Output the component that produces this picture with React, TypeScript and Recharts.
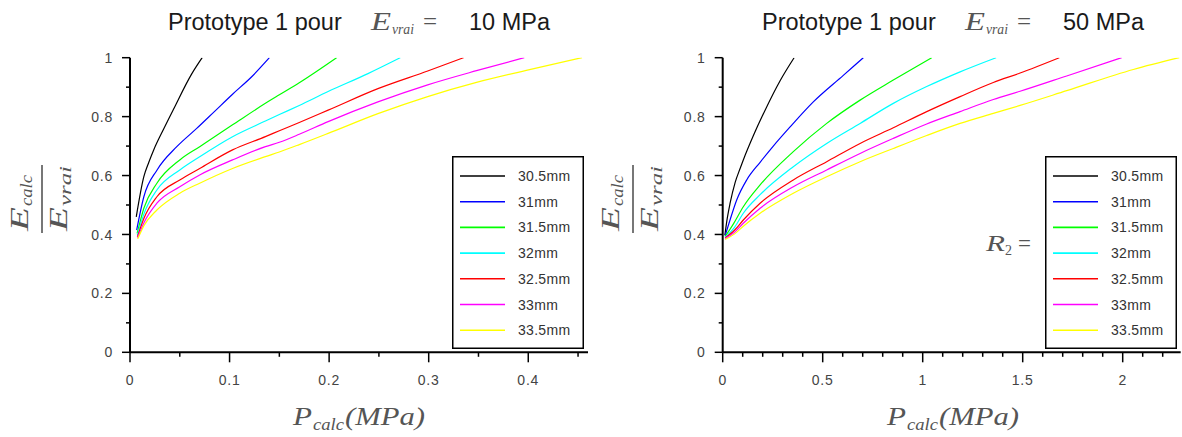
import React from 'react'
import { LineChart, Line, XAxis, YAxis, Legend } from 'recharts'

const radii = ['30.5mm', '31mm', '31.5mm', '32mm', '32.5mm', '33mm', '33.5mm']
const colors = ['#000000', '#0000ff', '#00ff00', '#00ffff', '#ff0000', '#ff00ff', '#ffff00']

// E_vrai = 10 MPa : [P_calc (MPa), E_calc / E_vrai]
const e10_r305 = [[0.0063, 0.46], [0.0139, 0.596], [0.0189, 0.645], [0.0238, 0.687], [0.0338, 0.758], [0.0437, 0.825], [0.062, 0.945], [0.0725, 1.0]]
const e10_r31 = [[0.0067, 0.415], [0.0139, 0.528], [0.0272, 0.619], [0.047, 0.698], [0.067, 0.76], [0.085, 0.818], [0.103, 0.876], [0.123, 0.938], [0.14, 1.0]]
const e10_r315 = [[0.0072, 0.404], [0.014, 0.49], [0.027, 0.574], [0.05, 0.653], [0.07, 0.698], [0.103, 0.772], [0.136, 0.845], [0.15, 0.874], [0.17, 0.915], [0.2075, 1.0]]
const e10_r32 = [[0.0074, 0.398], [0.014, 0.47], [0.027, 0.551], [0.05, 0.619], [0.07, 0.664], [0.103, 0.732], [0.136, 0.785], [0.15, 0.807], [0.17, 0.838], [0.199, 0.885], [0.239, 0.946], [0.2715, 1.0]]
const e10_r325 = [[0.0075, 0.392], [0.014, 0.455], [0.027, 0.528], [0.05, 0.585], [0.07, 0.624], [0.103, 0.687], [0.136, 0.732], [0.15, 0.752], [0.17, 0.78], [0.199, 0.822], [0.249, 0.895], [0.299, 0.955], [0.335, 1.0]]
const e10_r33 = [[0.0076, 0.389], [0.014, 0.44], [0.027, 0.506], [0.05, 0.562], [0.07, 0.602], [0.103, 0.653], [0.136, 0.698], [0.15, 0.713], [0.17, 0.74], [0.199, 0.783], [0.249, 0.85], [0.299, 0.908], [0.348, 0.956], [0.396, 1.0]]
const e10_r335 = [[0.0078, 0.385], [0.014, 0.43], [0.027, 0.483], [0.05, 0.54], [0.07, 0.574], [0.103, 0.624], [0.136, 0.664], [0.15, 0.68], [0.17, 0.705], [0.199, 0.743], [0.249, 0.81], [0.299, 0.868], [0.348, 0.916], [0.398, 0.957], [0.454, 1.0]]

// E_vrai = 50 MPa
const e50_r305 = [[0.011, 0.398], [0.02, 0.443], [0.037, 0.506], [0.062, 0.576], [0.087, 0.624], [0.103, 0.653], [0.153, 0.735], [0.212, 0.822], [0.287, 0.922], [0.357, 1.0]]
const e50_r31 = [[0.012, 0.395], [0.037, 0.45], [0.07, 0.517], [0.12, 0.585], [0.187, 0.645], [0.253, 0.7], [0.337, 0.765], [0.453, 0.85], [0.603, 0.94], [0.703, 1.0]]
const e50_r315 = [[0.012, 0.393], [0.053, 0.435], [0.103, 0.494], [0.187, 0.568], [0.353, 0.681], [0.52, 0.777], [0.687, 0.856], [0.853, 0.924], [1.045, 1.0]]
const e50_r32 = [[0.012, 0.39], [0.06, 0.425], [0.103, 0.472], [0.187, 0.535], [0.353, 0.63], [0.52, 0.709], [0.687, 0.777], [0.853, 0.845], [1.02, 0.902], [1.187, 0.952], [1.367, 1.0]]
const e50_r325 = [[0.012, 0.388], [0.06, 0.415], [0.103, 0.449], [0.187, 0.506], [0.353, 0.585], [0.52, 0.647], [0.687, 0.709], [0.853, 0.762], [1.02, 0.817], [1.187, 0.868], [1.353, 0.916], [1.487, 0.948], [1.683, 1.0]]
const e50_r33 = [[0.012, 0.386], [0.06, 0.408], [0.103, 0.438], [0.187, 0.489], [0.353, 0.562], [0.52, 0.619], [0.687, 0.675], [0.853, 0.726], [1.02, 0.775], [1.187, 0.817], [1.353, 0.858], [1.487, 0.886], [1.72, 0.938], [1.995, 1.0]]
const e50_r335 = [[0.012, 0.383], [0.06, 0.402], [0.103, 0.428], [0.187, 0.472], [0.353, 0.54], [0.52, 0.596], [0.687, 0.647], [0.853, 0.692], [1.02, 0.736], [1.187, 0.777], [1.353, 0.811], [1.487, 0.838], [1.72, 0.888], [2.053, 0.96], [2.283, 1.0]]

const e10Series = [e10_r305, e10_r31, e10_r315, e10_r32, e10_r325, e10_r33, e10_r335]
const e50Series = [e50_r305, e50_r31, e50_r315, e50_r32, e50_r325, e50_r33, e50_r335]

const yTicks = [0, 0.1, 0.2, 0.3, 0.4, 0.5, 0.6, 0.7, 0.8, 0.9, 1]
const yMajor = [0, 0.2, 0.4, 0.6, 0.8, 1]
const e10XTicks = [0, 0.05, 0.1, 0.15, 0.2, 0.25, 0.3, 0.35, 0.4, 0.45]
const e10XMajor = [0, 0.1, 0.2, 0.3, 0.4]
const e50XTicks = [0, 0.1, 0.2, 0.3, 0.4, 0.5, 0.6, 0.7, 0.8, 0.9, 1, 1.1, 1.2, 1.3, 1.4, 1.5, 1.6, 1.7, 1.8, 1.9, 2, 2.1, 2.2]
const e50XMajor = [0, 0.5, 1, 1.5, 2]

const sans = '"Liberation Sans", Arial, sans-serif'
const serif = '"Liberation Serif", "Times New Roman", serif'

function XTick({ x, y, payload, major }: any) {
  const isMajor = major.includes(payload.value)
  return (
    <g>
      <line x1={x} x2={x} y1={y} y2={y + (isMajor ? 10 : 4.5)} stroke='#000' strokeWidth={1.5} />
      {isMajor && (
        <text x={x} y={y + 33} textAnchor='middle' fontSize={14} letterSpacing={0.8} fill='#444' fontFamily={sans}>
          {String(payload.value)}
        </text>
      )}
    </g>
  )
}

function YTick({ x, y, payload }: any) {
  const isMajor = yMajor.includes(payload.value)
  return (
    <g>
      <line x1={x} x2={x - (isMajor ? 8 : 4)} y1={y} y2={y} stroke='#000' strokeWidth={1.5} />
      {isMajor && (
        <text x={x - 17} y={y} dy='0.36em' textAnchor='end' fontSize={14} letterSpacing={0.8} fill='#444' fontFamily={sans}>
          {String(payload.value)}
        </text>
      )}
    </g>
  )
}

// legend keeps the series order (Recharts would sort it by name)
function LegendBox() {
  return (
    <svg width={132} height={193} style={{ display: 'block' }}>
      <rect x={0.75} y={0.75} width={130.5} height={191.5} fill='#fff' stroke='#000' strokeWidth={1.5} />
      {radii.map((name, i) => {
        const cy = 20 + i * 25.7
        return (
          <g key={name}>
            <line x1={8} x2={53} y1={cy} y2={cy} stroke={colors[i]} strokeWidth={1.6} />
            <text x={66} y={cy + 5} fontSize={14} letterSpacing={0.3} fill='#333' fontFamily={sans}>
              {name}
            </text>
          </g>
        )
      })}
    </svg>
  )
}

function Panel({ series, xMax, xTicks, xMajor, marginLeft, marginRight }: any) {
  return (
    <LineChart width={591} height={437} margin={{ top: 57.7, right: marginRight, bottom: 54.7, left: 0 }}>
      <XAxis
        type='number'
        dataKey='x'
        domain={[0, xMax]}
        allowDataOverflow
        ticks={xTicks}
        interval={0}
        height={30}
        tickSize={0}
        tickMargin={0}
        tickLine={false}
        axisLine={{ stroke: '#000', strokeWidth: 2 }}
        tick={(p: any) => <XTick {...p} major={xMajor} />}
      />
      <YAxis
        type='number'
        dataKey='y'
        domain={[0, 1]}
        allowDataOverflow
        ticks={yTicks}
        interval={0}
        width={marginLeft}
        tickSize={0}
        tickMargin={0}
        tickLine={false}
        axisLine={{ stroke: '#000', strokeWidth: 2 }}
        tick={(p: any) => <YTick {...p} />}
      />
      <Legend
        layout='vertical'
        align='center'
        verticalAlign='middle'
        wrapperStyle={{ left: marginLeft + 322, top: 156, width: 132, height: 193 }}
        content={() => <LegendBox />}
      />
      {series.map((pts: number[][], i: number) => (
        <Line
          key={radii[i]}
          name={radii[i]}
          data={pts.map(([x, y]) => ({ x, y }))}
          dataKey='y'
          type='monotone'
          stroke={colors[i]}
          strokeWidth={1.2}
          dot={false}
          activeDot={false}
          isAnimationActive={false}
        />
      ))}
    </LineChart>
  )
}

function Title({ x, value }: { x: number; value: string }) {
  return (
    <g>
      <text x={x} y={30} fontSize={23.5} fill='#1a1a1a' fontFamily={sans}>Prototype 1 pour</text>
      <text x={x + 203} y={30} fontSize={25} fontStyle='italic' fill='#555' fontFamily={serif} textLength={20} lengthAdjust='spacingAndGlyphs'>E</text>
      <text x={x + 224} y={34} fontSize={14} fontStyle='italic' fill='#555' fontFamily={serif} textLength={22} lengthAdjust='spacingAndGlyphs'>vrai</text>
      <text x={x + 255} y={30} fontSize={25} fill='#555' fontFamily={serif}>=</text>
      <text x={x + 301} y={30} fontSize={23.5} fill='#1a1a1a' fontFamily={sans}>{value}</text>
    </g>
  )
}

function YLabel({ x }: { x: number }) {
  return (
    <g transform={`translate(${x},201) rotate(-90)`} fill='#555' fontFamily={serif} fontStyle='italic'>
      <text x={-30} y={-14} fontSize={26} textLength={24} lengthAdjust='spacingAndGlyphs'>E</text>
      <text x={-5} y={-10} fontSize={16} textLength={31} lengthAdjust='spacingAndGlyphs'>calc</text>
      <line x1={-32} x2={36} y1={0} y2={0} stroke='#555' strokeWidth={1.6} />
      <text x={-30} y={25} fontSize={26} textLength={24} lengthAdjust='spacingAndGlyphs'>E</text>
      <text x={-5} y={29} fontSize={16} textLength={40} lengthAdjust='spacingAndGlyphs'>vrai</text>
    </g>
  )
}

function XLabel({ x }: { x: number }) {
  return (
    <g fill='#555' fontFamily={serif} fontStyle='italic'>
      <text x={x} y={425} fontSize={26} textLength={19} lengthAdjust='spacingAndGlyphs'>P</text>
      <text x={x + 20} y={430} fontSize={16} textLength={31} lengthAdjust='spacingAndGlyphs'>calc</text>
      <text x={x + 52} y={425} fontSize={26} textLength={80} lengthAdjust='spacingAndGlyphs'>(MPa)</text>
    </g>
  )
}

export default function App() {
  return (
    <div style={{ position: 'absolute', left: 0, top: 0, width: 1182, height: 437, background: '#fff', overflow: 'hidden' }}>
      <div style={{ position: 'absolute', left: 0, top: 0 }}>
        <Panel series={e10Series} xMax={0.46} xTicks={e10XTicks} xMajor={e10XMajor} marginLeft={130} marginRight={3} />
      </div>
      <div style={{ position: 'absolute', left: 591, top: 0 }}>
        <Panel series={e50Series} xMax={2.29} xTicks={e50XTicks} xMajor={e50XMajor} marginLeft={131.7} marginRight={1.3} />
      </div>
      <svg width={1182} height={437} style={{ position: 'absolute', left: 0, top: 0, pointerEvents: 'none' }}>
        <Title x={168} value='10 MPa' />
        <Title x={762} value='50 MPa' />
        <YLabel x={42} />
        <YLabel x={633} />
        <XLabel x={293} />
        <XLabel x={887} />
        <g fill='#555' fontFamily={serif} fontStyle='italic'>
          <text x={986} y={251} fontSize={23} textLength={19} lengthAdjust='spacingAndGlyphs'>R</text>
          <text x={1005} y={255} fontSize={14} fontStyle='normal'>2</text>
          <text x={1018} y={251} fontSize={23} fontStyle='normal'>=</text>
        </g>
      </svg>
    </div>
  )
}
